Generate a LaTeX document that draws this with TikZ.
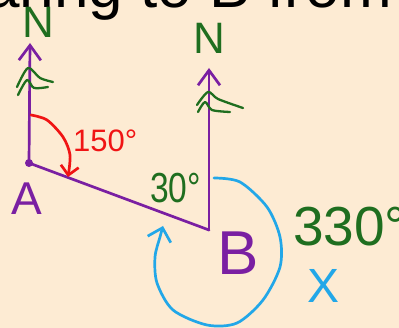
\documentclass[tikz,border=0pt]{standalone}
\usepackage{fontspec}
\setmainfont{Liberation Sans}
\usetikzlibrary{arrows.meta}
\definecolor{pagepeach}{HTML}{FDEBD3}
\definecolor{penpurple}{HTML}{7A1FA2}
\definecolor{pengreen}{HTML}{1F6E1F}
\definecolor{penred}{HTML}{F01414}
\definecolor{penblue}{HTML}{22A7E8}
\tikzset{
  pen/.style={line width=2.7pt,line cap=round,line join=round},
  bearingline/.style={pen,draw=penpurple},
  northarrow/.style={bearingline,-{Straight Barb[length=15pt,width=22pt]}},
  feather/.style={pen,draw=pengreen,line width=2.3pt},
  anglearc/.style={pen,draw=#1},
  hand/.style={anchor=base west,inner sep=0pt,font=\fontsize{#1}{#1}\selectfont},
}

\begin{document}
\begin{tikzpicture}[x=1pt,y=-1pt]
		\fill[pagepeach] (0,0) rectangle (399,328);
		\useasboundingbox (0,0) rectangle (399,328);
		\clip (0,0) rectangle (399,328);
		\node[hand=62] (title) at (-15,8) {aring to B from};
		% points and north lines
		\coordinate (A) at (29,163);
		\coordinate (B) at (209,230);
		\coordinate (NA) at (30,43);
		\coordinate (NB) at (209,68);
		\draw[northarrow] (A)--(NA);
		\draw[northarrow] (B)--(NB);
		\draw[bearingline] (A)--(B);
		\fill[penpurple] (A) circle (4);
		\draw[feather] plot[smooth] coordinates {(17,87) (28,68) (40,78) (53,82)};
		\draw[feather] plot[smooth] coordinates {(18,95) (27,80) (34,88) (48,87)};
		\draw[feather] plot[smooth] coordinates {(197,105) (208,92) (218,99) (243,108)};
		\draw[feather] plot[smooth] coordinates {(198,112) (205,102) (212,110) (230,112)};
		% angle arcs
		\draw[anglearc=penred,-{Straight Barb[length=9pt,width=18pt]}] plot[smooth] coordinates {(31,115) (47,120) (63,137) (70,155) (68,177)};
		\draw[anglearc=penblue,-{Straight Barb[length=12pt,width=24pt]}] plot[smooth] coordinates {(214,178) (240,182) (267,207) (280,237) (280,267) (263,300) (237,323) (207,325) (173,310) (157,283) (155,257) (160,237) (163,226)};
		% labels
		\node[hand=44,text=pengreen] (na) at (22,38) {N};
		\node[hand=44,text=pengreen] (nb) at (193,54) {N};
		\node[hand=46,text=penpurple] (la) at (11,215) {A};
		\node[hand=62,text=penpurple] (lb) at (217,275) {B};
		\node[hand=31,text=penred] (red) at (73,152) {150°};
		\node[hand=42,text=pengreen] (inner) at (150,203) {\scalebox{0.8}[1]{30°}};
		\node[hand=55,text=pengreen] (outer) at (293,246) {330°};
		\node[hand=48,text=penblue] (cross) at (307,303) {X};
	\end{tikzpicture}
\end{document}
